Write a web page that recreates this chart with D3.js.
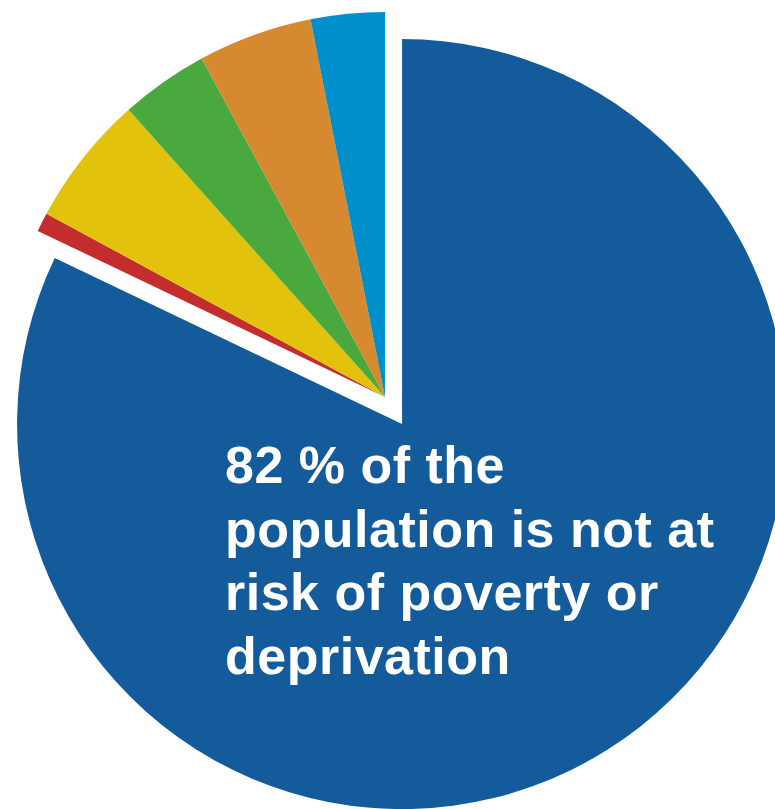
<!DOCTYPE html>
<html>
<head>
<meta charset="utf-8">
<script src="https://cdn.jsdelivr.net/npm/d3@7"></script>
<style>
  html, body { margin: 0; padding: 0; background: #ffffff; overflow: hidden; }
  svg { display: block; }
</style>
</head>
<body>
<svg id="chart" width="775" height="809"></svg>
<script>
const categories = [
  "Not at risk of poverty or deprivation",
  "Category 2",
  "Category 3",
  "Category 4",
  "Category 5",
  "Category 6"
];
const values = [82.1, 0.8, 5.5, 3.7, 4.8, 3.1];
const colors = ["#145B9C", "#C32D2E", "#E2C20D", "#49A93F", "#D6892E", "#008FCB"];
const labelLines = ["82 % of the", "population is not at", "risk of poverty or", "deprivation"];

const svg = d3.select("#chart");
const cx = 385, cy = 397, radius = 385, explode = 32;

const data = categories.map((c, i) => ({ category: c, value: values[i], color: colors[i] }));
const pie = d3.pie().sort(null).value(d => d.value).startAngle(0).endAngle(2 * Math.PI);
const arc = d3.arc().innerRadius(0).outerRadius(radius);
const arcs = pie(data);

const g = svg.append("g").attr("transform", `translate(${cx},${cy})`);

g.selectAll("path.slice")
  .data(arcs)
  .join("path")
  .attr("class", "slice")
  .attr("fill", d => d.data.color)
  .attr("d", arc)
  .attr("transform", (d, i) => {
    if (i !== 0) return null;
    const mid = (d.startAngle + d.endAngle) / 2;
    return `translate(${Math.sin(mid) * explode},${-Math.cos(mid) * explode})`;
  });

const label = svg.append("text")
  .attr("x", 225)
  .attr("y", 483)
  .attr("fill", "#ffffff")
  .attr("font-family", "'Liberation Sans', Arial, sans-serif")
  .attr("font-weight", "bold")
  .attr("font-size", 52)
  .attr("letter-spacing", 0.5);

label.selectAll("tspan")
  .data(labelLines)
  .join("tspan")
  .attr("x", 225)
  .attr("dy", (d, i) => i === 0 ? 0 : 63.5)
  .text(d => d);
</script>
</body>
</html>
